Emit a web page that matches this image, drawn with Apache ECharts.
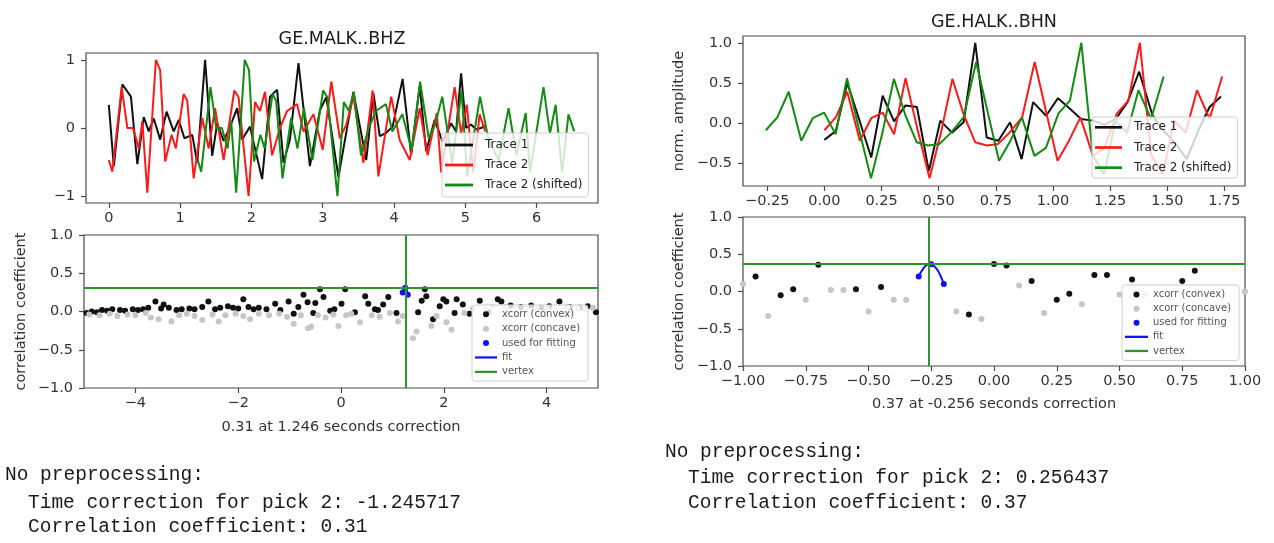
<!DOCTYPE html>
<html><head><meta charset="utf-8">
<script src="https://cdn.jsdelivr.net/npm/echarts@6/dist/echarts.min.js"></script>
<style>html,body{margin:0;padding:0;background:#fff}#c{width:1274px;height:543px}</style>
</head><body><div id="c"></div>
<script>
// ---------- GE.MALK..BHZ ----------
const MALK_TRACE1 = [[0.00,0.34],[0.07,-0.56],[0.19,0.64],[0.31,0.46],[0.40,-0.53],[0.49,0.16],[0.56,-0.05],[0.63,0.14],[0.72,-0.17],[0.81,0.24],[0.91,-0.05],[0.98,0.12],[1.06,-0.15],[1.17,-0.10],[1.24,-0.51],[1.35,1.00],[1.45,-0.41],[1.52,0.07],[1.61,-0.19],[1.70,0.02],[1.80,0.29],[1.87,-0.17],[1.98,0.02],[2.05,-0.30],[2.15,-0.75],[2.26,0.46],[2.36,0.56],[2.45,-0.51],[2.54,-0.17],[2.66,0.95],[2.82,-0.56],[2.96,0.26],[3.05,0.45],[3.22,-0.72],[3.43,0.53],[3.61,-0.47],[3.71,0.51],[3.80,-0.12],[3.89,-0.07],[3.98,0.02],[4.12,0.72],[4.24,-0.39],[4.36,0.62],[4.45,-0.34],[4.57,0.12],[4.68,-0.20],[4.80,0.07],[4.87,-0.05],[4.94,0.80],[5.01,0.00],[5.08,0.05],[5.15,-0.02],[5.22,0.00],[5.28,0.03]];
const MALK_TRACE2 = [[0.00,-0.47],[0.05,-0.64],[0.18,0.60],[0.26,0.00],[0.34,0.00],[0.42,-0.30],[0.47,0.10],[0.54,-0.95],[0.66,1.00],[0.72,0.85],[0.79,-0.49],[0.88,-0.10],[0.94,-0.30],[1.05,0.50],[1.10,0.40],[1.19,-0.74],[1.31,0.15],[1.40,-0.30],[1.49,0.29],[1.61,-0.47],[1.76,0.55],[1.82,0.45],[1.96,-1.00],[2.05,0.38],[2.12,0.25],[2.19,0.53],[2.29,-0.40],[2.40,0.00],[2.50,0.25],[2.64,0.35],[2.73,-0.05],[2.87,0.20],[3.00,-0.32],[3.12,0.68],[3.24,-0.15],[3.33,0.05],[3.43,0.46],[3.57,-0.51],[3.70,0.55],[3.78,-0.71],[3.96,0.46],[4.08,-0.18],[4.22,-0.47],[4.36,0.29],[4.47,-0.40],[4.60,0.22],[4.66,-0.65],[4.85,0.60],[4.94,-0.08],[5.02,0.34],[5.11,-0.65],[5.20,0.20],[5.28,-0.05]];
const MALK_SHIFT = 1.246;
const MALK_CC = 0.31;
const MALK_CONVEX = [[-4.95,-0.02],[-4.85,0.00],[-4.75,-0.01],[-4.65,0.02],[-4.55,0.01],[-4.45,0.03],[-4.30,0.02],[-4.20,0.01],[-4.05,0.03],[-3.95,0.02],[-3.85,0.03],[-3.75,0.05],[-3.61,0.13],[-3.50,0.04],[-3.45,0.09],[-3.35,0.05],[-3.20,0.02],[-3.10,0.03],[-2.95,0.04],[-2.85,0.03],[-2.70,0.06],[-2.58,0.13],[-2.45,0.03],[-2.35,0.05],[-2.20,0.07],[-2.10,0.05],[-2.00,0.04],[-1.90,0.16],[-1.80,0.06],[-1.70,0.03],[-1.60,0.05],[-1.45,0.03],[-1.28,0.10],[-1.18,0.02],[-1.02,0.13],[-0.92,-0.03],[-0.83,0.06],[-0.73,0.22],[-0.65,0.12],[-0.54,-0.02],[-0.50,0.11],[-0.41,0.29],[-0.34,0.19],[-0.21,0.01],[-0.13,0.03],[0.01,0.10],[0.08,0.29],[0.27,-0.01],[0.47,0.20],[0.53,0.10],[0.66,0.03],[0.72,0.02],[0.82,0.09],[0.92,0.19],[1.08,-0.02],[1.50,-0.01],[1.57,0.14],[1.63,0.29],[1.66,0.20],[1.79,-0.10],[1.92,0.07],[1.99,0.16],[2.05,0.13],[2.21,-0.02],[2.25,0.16],[2.37,0.09],[2.50,-0.03],[2.70,0.14],[2.86,-0.01],[3.05,0.16],[3.12,0.13],[3.30,0.08],[3.50,0.06],[3.70,0.08],[3.90,0.05],[4.05,0.07],[4.25,0.13],[4.45,0.06],[4.65,0.05],[4.80,0.07],[4.96,-0.01]];
const MALK_CONCAVE = [[-4.90,-0.04],[-4.70,-0.05],[-4.50,-0.03],[-4.35,-0.06],[-4.15,-0.04],[-4.00,-0.05],[-3.80,-0.02],[-3.70,-0.08],[-3.55,-0.10],[-3.30,-0.13],[-3.15,-0.05],[-3.00,-0.03],[-2.85,-0.06],[-2.70,-0.11],[-2.50,-0.04],[-2.38,-0.13],[-2.25,-0.05],[-2.05,-0.03],[-1.90,-0.06],[-1.77,-0.10],[-1.60,-0.03],[-1.40,-0.05],[-1.20,-0.03],[-1.05,-0.07],[-0.92,-0.16],[-0.78,-0.05],[-0.64,-0.22],[-0.58,-0.20],[-0.45,-0.05],[-0.30,-0.08],[-0.15,-0.04],[-0.05,-0.19],[0.10,-0.05],[0.20,-0.03],[0.37,-0.14],[0.60,-0.05],[0.75,-0.07],[0.95,-0.02],[1.11,-0.13],[1.20,-0.06],[1.40,-0.35],[1.47,-0.26],[1.76,-0.19],[1.86,-0.06],[2.05,-0.14],[2.15,-0.24],[2.40,-0.02],[2.57,0.04],[2.80,0.04],[2.95,0.06],[3.20,0.06],[3.40,0.04],[3.60,0.05],[3.80,0.03],[4.00,0.05],[4.15,0.03],[4.40,0.06],[4.60,0.04],[4.75,0.02],[4.90,0.05]];
const MALK_FITPTS = [[1.20,0.25],[1.25,0.31],[1.30,0.22]];
const MALK_FITLINE = [[1.20,0.25],[1.225,0.298],[1.246,0.311],[1.27,0.292],[1.30,0.22]];

// ---------- GE.HALK..BHN ----------
const HALK_TRACE1 = [[0.00,-0.21],[0.05,-0.10],[0.10,0.50],[0.155,0.02],[0.205,-0.43],[0.255,0.34],[0.305,0.02],[0.355,0.22],[0.405,0.20],[0.457,-0.60],[0.507,0.03],[0.558,-0.12],[0.609,0.01],[0.66,1.00],[0.71,-0.18],[0.761,-0.22],[0.812,0.01],[0.863,-0.45],[0.913,0.26],[0.97,0.09],[1.022,0.31],[1.073,0.18],[1.123,0.05],[1.175,0.03],[1.225,-0.02],[1.275,0.05],[1.326,0.26],[1.377,0.64],[1.435,0.10],[1.485,-0.10],[1.535,-0.25],[1.585,-0.45],[1.635,-0.10],[1.685,0.20],[1.735,0.33]];
const HALK_TRACE2 = [[0.00,-0.09],[0.05,0.07],[0.10,0.39],[0.155,-0.22],[0.205,0.06],[0.255,0.13],[0.305,-0.14],[0.355,0.56],[0.405,-0.05],[0.46,-0.69],[0.51,-0.12],[0.56,0.55],[0.61,0.10],[0.66,-0.24],[0.71,-0.28],[0.76,-0.26],[0.81,-0.12],[0.865,0.07],[0.92,0.76],[0.97,0.14],[1.02,-0.47],[1.07,-0.22],[1.12,0.07],[1.175,-0.41],[1.225,-0.31],[1.28,0.12],[1.33,0.28],[1.38,1.00],[1.43,-0.40],[1.48,-0.64],[1.53,0.03],[1.58,-0.12],[1.63,0.41],[1.685,0.05],[1.74,0.58]];
const HALK_SHIFT = -0.256;
const HALK_CC = 0.37;
const HALK_CONVEX = [[-0.95,0.20],[-0.85,-0.05],[-0.80,0.03],[-0.70,0.36],[-0.55,0.03],[-0.45,0.06],[-0.10,-0.31],[0.00,0.37],[0.05,0.35],[0.15,0.14],[0.25,-0.11],[0.30,-0.03],[0.40,0.22],[0.45,0.22],[0.55,0.16],[0.75,0.14],[0.80,0.28]];
const HALK_CONCAVE = [[-1.00,0.10],[-0.90,-0.33],[-0.75,-0.11],[-0.65,0.02],[-0.60,0.02],[-0.50,-0.27],[-0.40,-0.11],[-0.35,-0.11],[-0.15,-0.27],[-0.05,-0.37],[0.10,0.08],[0.20,-0.29],[0.35,-0.17],[0.50,-0.04],[0.60,-0.04],[0.70,-0.07],[1.00,0.00]];
const HALK_FITPTS = [[-0.30,0.20],[-0.25,0.365],[-0.20,0.10]];
const HALK_FITLINE = [[-0.30,0.20],[-0.28,0.318],[-0.265,0.361],[-0.256,0.368],[-0.245,0.358],[-0.23,0.311],[-0.215,0.225],[-0.20,0.10]];

// ---------- tick labels ----------
const TL_XTICKS = [0,1,2,3,4,5,6];
const TL_XLABELS = ['0','1','2','3','4','5','6'];
const TL_YTICKS = [-1,0,1];
const TL_YLABELS = ['\u22121','0','1'];
const BL_XTICKS = [-4,-2,0,2,4];
const BL_XLABELS = ['\u22124','\u22122','0','2','4'];
const CC_YTICKS = [-1,-0.5,0,0.5,1];
const CC_YLABELS = ['\u22121.0','\u22120.5','0.0','0.5','1.0'];
const TR_XTICKS = [-0.25,0,0.25,0.5,0.75,1,1.25,1.5,1.75];
const TR_XLABELS = ['\u22120.25','0.00','0.25','0.50','0.75','1.00','1.25','1.50','1.75'];
const TR_YTICKS = [-0.5,0,0.5,1];
const TR_YLABELS = ['\u22120.5','0.0','0.5','1.0'];
const BR_XTICKS = [-1,-0.75,-0.5,-0.25,0,0.25,0.5,0.75,1];
const BR_XLABELS = ['\u22121.00','\u22120.75','\u22120.50','\u22120.25','0.00','0.25','0.50','0.75','1.00'];

const OUT_MALK = ['No preprocessing:', 'Time correction for pick 2: -1.245717', 'Correlation coefficient: 0.31'];
const OUT_HALK = ['No preprocessing:', 'Time correction for pick 2: 0.256437', 'Correlation coefficient: 0.37'];

// ---------- style ----------
const FONT = 'DejaVu Sans';
const AXC = '#4a4a4a';
const TXT = '#333333';
const C_BLACK = '#111111', C_RED = '#ff1a1a', C_GREEN = '#138a13', C_VERTEX = '#2f942f', C_GREY = '#c6c6c6', C_BLUE = '#1010ff';
const LINE_ICON = 'path://M0,0H10V1H0Z';

function lab(ticks, labels) {
  return function (v) {
    for (let i = 0; i < ticks.length; i++) if (Math.abs(ticks[i] - v) < 1e-6) return labels[i];
    return '';
  };
}
function axis(kind, grid, min, max, ticks, labels, name, nameGap) {
  const a = {
    type: 'value', gridIndex: grid, min: min, max: max,
    axisLine: { show: false, onZero: false },
    splitLine: { show: false },
    axisTick: { show: true, customValues: ticks, length: 5, lineStyle: { color: AXC, width: 1.2 } },
    axisLabel: { customValues: ticks, formatter: lab(ticks, labels), margin: kind === 'x' ? 8 : 11,
      color: TXT, fontSize: 14.5, fontFamily: FONT, hideOverlap: false }
  };
  if (name) {
    a.name = name; a.nameLocation = 'middle'; a.nameGap = nameGap;
    a.nameTextStyle = { fontSize: 14.5, color: TXT, fontFamily: FONT };
    if (kind === 'y') a.nameRotate = 90;
  }
  return a;
}
function shifted(arr, s) { return arr.map(p => [p[0] + s, p[1]]); }

function traceSeries(ax, t1, t2, shift) {
  const common = { type: 'line', xAxisIndex: ax, yAxisIndex: ax, symbol: 'none', showSymbol: false, silent: true, animation: false };
  return [
    Object.assign({}, common, { name: 'Trace 1', data: t1, color: C_BLACK, lineStyle: { color: C_BLACK, width: 2 } }),
    Object.assign({}, common, { name: 'Trace 2', data: t2, color: C_RED, lineStyle: { color: C_RED, width: 2 } }),
    Object.assign({}, common, { name: 'Trace 2 (shifted)', data: shifted(t2, shift), color: C_GREEN, lineStyle: { color: C_GREEN, width: 2 } })
  ];
}
function dotStyle(c) { return { color: c, opacity: 1, borderWidth: 0 }; }
function corrSeries(ax, convex, concave, fitpts, fitline, shift, cc) {
  return [
    { type: 'scatter', name: 'xcorr (convex)', xAxisIndex: ax, yAxisIndex: ax, data: convex, symbolSize: 6, color: C_BLACK, itemStyle: dotStyle(C_BLACK), silent: true, animation: false },
    { type: 'scatter', name: 'xcorr (concave)', xAxisIndex: ax, yAxisIndex: ax, data: concave, symbolSize: 6, color: C_GREY, itemStyle: dotStyle(C_GREY), silent: true, animation: false },
    { type: 'scatter', name: 'used for fitting', xAxisIndex: ax, yAxisIndex: ax, data: fitpts, symbolSize: 6, color: C_BLUE, itemStyle: dotStyle(C_BLUE), silent: true, animation: false },
    { type: 'line', name: 'fit', xAxisIndex: ax, yAxisIndex: ax, data: fitline, smooth: true, symbol: 'none', showSymbol: false, color: C_BLUE, lineStyle: { color: C_BLUE, width: 2 }, silent: true, animation: false },
    { type: 'line', name: 'vertex', xAxisIndex: ax, yAxisIndex: ax, data: [], symbol: 'none', color: C_VERTEX, lineStyle: { color: C_VERTEX, width: 2 }, silent: true, animation: false,
      markLine: { silent: true, symbol: ['none', 'none'], label: { show: false }, animation: false,
        lineStyle: { color: C_VERTEX, width: 2, type: 'solid' }, emphasis: { disabled: true },
        data: [{ yAxis: cc }, { xAxis: shift }] } }
  ];
}

const LEG_BOX = { backgroundColor: 'rgba(255,255,255,0.8)', borderColor: '#cfcfcf', borderWidth: 1, borderRadius: 3, selectedMode: false, orient: 'vertical', itemStyle: { borderWidth: 0 } };
function traceLegend(left, top, itemWidth, itemGap, padTop) {
  return Object.assign({}, LEG_BOX, {
    left: left, top: top, itemWidth: itemWidth, itemHeight: 14, itemGap: itemGap, padding: [padTop, 6, padTop, 3],
    textStyle: { fontSize: 12, lineHeight: 14, color: '#222', fontFamily: FONT, padding: [0, 0, 0, 7] },
    data: [
      { name: 'Trace 1', icon: LINE_ICON, itemStyle: { color: C_BLACK, borderWidth: 0 } },
      { name: 'Trace 2', icon: LINE_ICON, itemStyle: { color: C_RED, borderWidth: 0 } },
      { name: 'Trace 2 (shifted)', icon: LINE_ICON, itemStyle: { color: C_GREEN, borderWidth: 0 } }
    ]
  });
}
function corrLegend(left, top, itemWidth, itemGap, padTop) {
  return Object.assign({}, LEG_BOX, {
    left: left, top: top, itemWidth: itemWidth, itemHeight: 6, itemGap: itemGap, padding: [padTop, 8, padTop, 3],
    textStyle: { fontSize: 10, lineHeight: 11.5, color: '#555', fontFamily: FONT },
    data: [
      { name: 'xcorr (convex)', icon: 'circle', itemStyle: { color: C_BLACK, borderWidth: 0, opacity: 1 } },
      { name: 'xcorr (concave)', icon: 'circle', itemStyle: { color: C_GREY, borderWidth: 0, opacity: 1 } },
      { name: 'used for fitting', icon: 'circle', itemStyle: { color: C_BLUE, borderWidth: 0, opacity: 1 } },
      { name: 'fit', icon: LINE_ICON, itemStyle: { color: C_BLUE, borderWidth: 0 } },
      { name: 'vertex', icon: LINE_ICON, itemStyle: { color: C_VERTEX, borderWidth: 0 } }
    ]
  });
}

const GRID_STYLE = { show: true, borderColor: AXC, borderWidth: 1.2, backgroundColor: 'transparent', containLabel: false };
const MONO = '19.5px "Liberation Mono"';
function txt(x, y, s, font, align) {
  return { type: 'text', x: x, y: y, silent: true, style: { text: s, font: font, fill: '#1a1a1a', align: align || 'left', verticalAlign: 'middle' } };
}

const option = {
  animation: false,
  textStyle: { fontFamily: FONT },
  grid: [
    Object.assign({ left: 86, top: 53, width: 512, height: 150 }, GRID_STYLE),
    Object.assign({ left: 84, top: 235, width: 514, height: 153 }, GRID_STYLE),
    Object.assign({ left: 743, top: 36, width: 502, height: 150 }, GRID_STYLE),
    Object.assign({ left: 743, top: 217, width: 502, height: 149 }, GRID_STYLE)
  ],
  xAxis: [
    axis('x', 0, -0.32, 6.86, TL_XTICKS, TL_XLABELS),
    axis('x', 1, -5, 5, BL_XTICKS, BL_XLABELS, MALK_CC.toFixed(2) + ' at ' + MALK_SHIFT.toFixed(3) + ' seconds correction', 32),
    axis('x', 2, -0.356, 1.84, TR_XTICKS, TR_XLABELS),
    axis('x', 3, -1, 1, BR_XTICKS, BR_XLABELS, HALK_CC.toFixed(2) + ' at ' + HALK_SHIFT.toFixed(3) + ' seconds correction', 31)
  ],
  yAxis: [
    axis('y', 0, -1.1, 1.1, TL_YTICKS, TL_YLABELS),
    axis('y', 1, -1, 1, CC_YTICKS, CC_YLABELS, 'correlation coefficient', 55),
    axis('y', 2, -0.785, 1.085, TR_YTICKS, TR_YLABELS, 'norm. amplitude', 56),
    axis('y', 3, -1, 1, CC_YTICKS, CC_YLABELS, 'correlation coefficient', 56)
  ],
  legend: [
    traceLegend(442, 133, 28, 6, 5),
    traceLegend(1092, 117, 27, 6.2, 3.3),
    corrLegend(472, 305, 22, 2.9, 3.5),
    corrLegend(1122, 285, 23, 2.6, 3.8)
  ],
  series: [].concat(
    traceSeries(0, MALK_TRACE1, MALK_TRACE2, MALK_SHIFT),
    corrSeries(1, MALK_CONVEX, MALK_CONCAVE, MALK_FITPTS, MALK_FITLINE, MALK_SHIFT, MALK_CC),
    traceSeries(2, HALK_TRACE1, HALK_TRACE2, HALK_SHIFT),
    corrSeries(3, HALK_CONVEX, HALK_CONCAVE, HALK_FITPTS, HALK_FITLINE, HALK_SHIFT, HALK_CC)
  ),
  graphic: [
    txt(342, 39, 'GE.MALK..BHZ', '17.5px "DejaVu Sans"', 'center'),
    txt(994, 22, 'GE.HALK..BHN', '17.5px "DejaVu Sans"', 'center'),
    txt(5, 475, OUT_MALK[0], MONO),
    txt(28, 503, OUT_MALK[1], MONO),
    txt(28, 527, OUT_MALK[2], MONO),
    txt(665, 452, OUT_HALK[0], MONO),
    txt(688, 478, OUT_HALK[1], MONO),
    txt(688, 503, OUT_HALK[2], MONO)
  ]
};
const chart = echarts.init(document.getElementById('c'), null, { renderer: 'canvas', width: 1274, height: 543 });
chart.setOption(option);
</script></body></html>
